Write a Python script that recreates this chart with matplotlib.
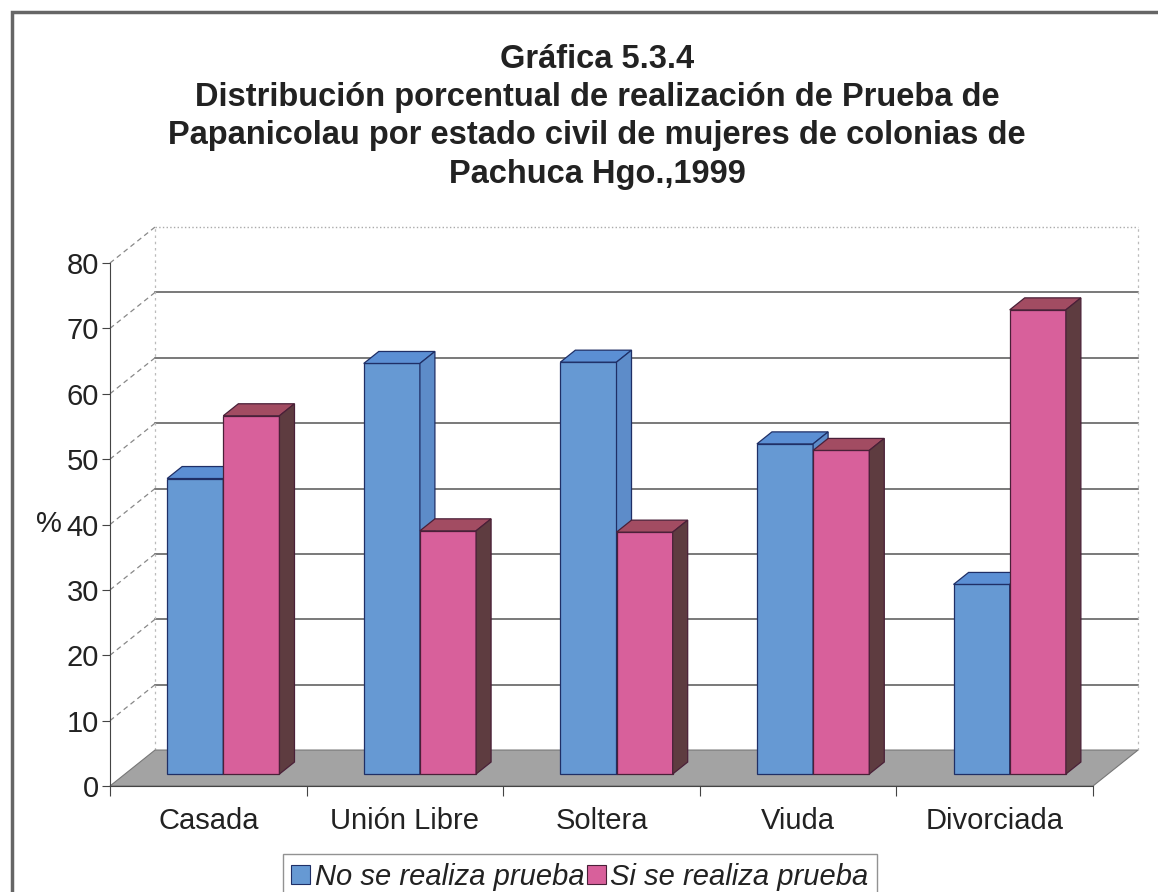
import matplotlib
matplotlib.use("Agg")
import matplotlib.pyplot as plt
from matplotlib.patches import Polygon, Rectangle

plt.rcParams["font.family"] = ["Liberation Sans", "DejaVu Sans"]

# Data
categories = ["Casada", "Unión Libre", "Soltera", "Viuda", "Divorciada"]
no_prueba = [45.2, 62.8, 63.0, 50.5, 29.0]
si_prueba = [54.8, 37.2, 37.0, 49.5, 71.0]
series_labels = ["No se realiza prueba", "Si se realiza prueba"]
y_ticks = [0, 10, 20, 30, 40, 50, 60, 70, 80]
title = ("Gráfica 5.3.4\n"
         "Distribución porcentual de realización de Prueba de\n"
         "Papanicolau por estado civil de mujeres de colonias de\n"
         "Pachuca Hgo.,1999")

# Colours of the faces (front, top, side) and edges
blue = ("#6699d3", "#5b8fd4", "#5d8cc9", "#1f2f66")
pink = ("#d8609b", "#a24c62", "#5e3c40", "#4a2038")
floor_color = "#a3a3a3"

# 3D look: depth offset of the back wall in data units
DX, DY = 0.229, 5.5
bar_w = 1 / 3.5          # gap width 150 %
d0, d1 = 1 / 3, 2 / 3    # bar depth range

W, H = 1158, 892
fig = plt.figure(figsize=(W / 100, H / 100), dpi=100)
ax = fig.add_axes([110 / W, 106 / H, 983 / W, 523 / H])
ax.set_xlim(-0.5, len(categories) - 0.5)
ax.set_ylim(0, 80)

x0, x1 = -0.5, len(categories) - 0.5

# back wall grid lines
for v in y_ticks[1:]:
    last = v == y_ticks[-1]
    ax.plot([x0 + DX, x1 + DX], [v + DY, v + DY], color="#aaaaaa" if last else "#555555",
            lw=1.0 if last else 1.1, ls=":" if last else "-", clip_on=False, zorder=1)
    # side wall diagonals
    ax.plot([x0, x0 + DX], [v, v + DY], color="#888888", lw=0.9, ls=(0, (4, 3)),
            clip_on=False, zorder=1)
ax.plot([x0 + DX, x0 + DX], [DY, 80 + DY], color="#bbbbbb", lw=0.9, ls=(0, (2, 3)),
        clip_on=False, zorder=1)
ax.plot([x1 + DX, x1 + DX], [DY, 80 + DY], color="#bbbbbb", lw=0.9, ls=(0, (2, 3)),
        clip_on=False, zorder=1)

# floor
ax.add_patch(Polygon([(x0, 0), (x1, 0), (x1 + DX, DY), (x0 + DX, DY)], closed=True,
                     facecolor=floor_color, edgecolor="#777777", lw=0.8,
                     clip_on=False, zorder=2))


def draw_bar(xc, value, colors, z):
    front, top, side, edge = colors
    left = xc - bar_w / 2
    right = xc + bar_w / 2
    ox, oy = d0 * DX, d0 * DY
    bx, by = (d1 - d0) * DX, (d1 - d0) * DY
    ax.bar(xc + ox, value, width=bar_w, bottom=oy, color=front, edgecolor=edge,
           linewidth=0.9, clip_on=False, zorder=z)
    ax.add_patch(Polygon([(left + ox, value + oy), (right + ox, value + oy),
                          (right + ox + bx, value + oy + by), (left + ox + bx, value + oy + by)],
                         closed=True, facecolor=top, edgecolor=edge, lw=0.9,
                         clip_on=False, zorder=z))
    ax.add_patch(Polygon([(right + ox, oy), (right + ox, value + oy),
                          (right + ox + bx, value + oy + by), (right + ox + bx, oy + by)],
                         closed=True, facecolor=side, edgecolor=edge, lw=0.9,
                         clip_on=False, zorder=z))


z = 3
for i in range(len(categories)):
    draw_bar(i - bar_w / 2, no_prueba[i], blue, z)
    z += 1
    draw_bar(i + bar_w / 2, si_prueba[i], pink, z)
    z += 1

# axes
for s in ["top", "right"]:
    ax.spines[s].set_visible(False)
ax.spines["left"].set_color("#444444")
ax.spines["bottom"].set_color("#444444")
ax.spines["left"].set_zorder(20)
ax.spines["bottom"].set_zorder(20)
ax.set_yticks(y_ticks)
ax.tick_params(axis="y", labelsize=21, length=6, color="#444444", pad=2,
               labelcolor="#222222")
ax.set_xticks([i - 0.5 for i in range(len(categories) + 1)])
ax.set_xticklabels([])
ax.set_xticks(list(range(len(categories))), minor=True)
ax.set_xticklabels(categories, minor=True)
ax.tick_params(axis="x", which="major", length=7, color="#444444")
ax.tick_params(axis="x", which="minor", length=0, labelsize=21, pad=15,
               labelcolor="#222222")
# "%" axis title, left of the 40 tick label
ax.annotate("%", xy=(0, 40), xycoords=("axes fraction", "data"), xytext=(-35, 0),
            textcoords="offset points", ha="right", va="center", fontsize=21,
            color="#222222")
ax.patch.set_visible(False)

fig.text(597 / W, 1 - 44 / H, title, ha="center", va="top", fontsize=23.5,
         fontweight="bold", linespacing=1.3, color="#222222")

handles = [Rectangle((0, 0), 1, 1, facecolor=blue[0], edgecolor=blue[3], lw=0.8),
           Rectangle((0, 0), 1, 1, facecolor=pink[0], edgecolor=pink[3], lw=0.8)]
leg = fig.legend(handles, series_labels, loc="upper center", ncol=2,
                 bbox_to_anchor=(580 / W, 1 - 854 / H), frameon=True, fancybox=False,
                 edgecolor="#777777", prop={"size": 21, "style": "italic"},
                 handlelength=0.65, handleheight=0.6, handletextpad=0.15,
                 columnspacing=0.1, borderpad=0.3, borderaxespad=0)
leg.get_frame().set_linewidth(1.0)
for t in leg.get_texts():
    t.set_color("#222222")

# chart border
fig.patches.append(Rectangle((12 / W, -0.05), 1.2, 1 - 12 / H + 0.05,
                             transform=fig.transFigure, fill=False,
                             edgecolor="#666666", lw=2.5))

plt.savefig("out.png", dpi=100)
plt.close()
